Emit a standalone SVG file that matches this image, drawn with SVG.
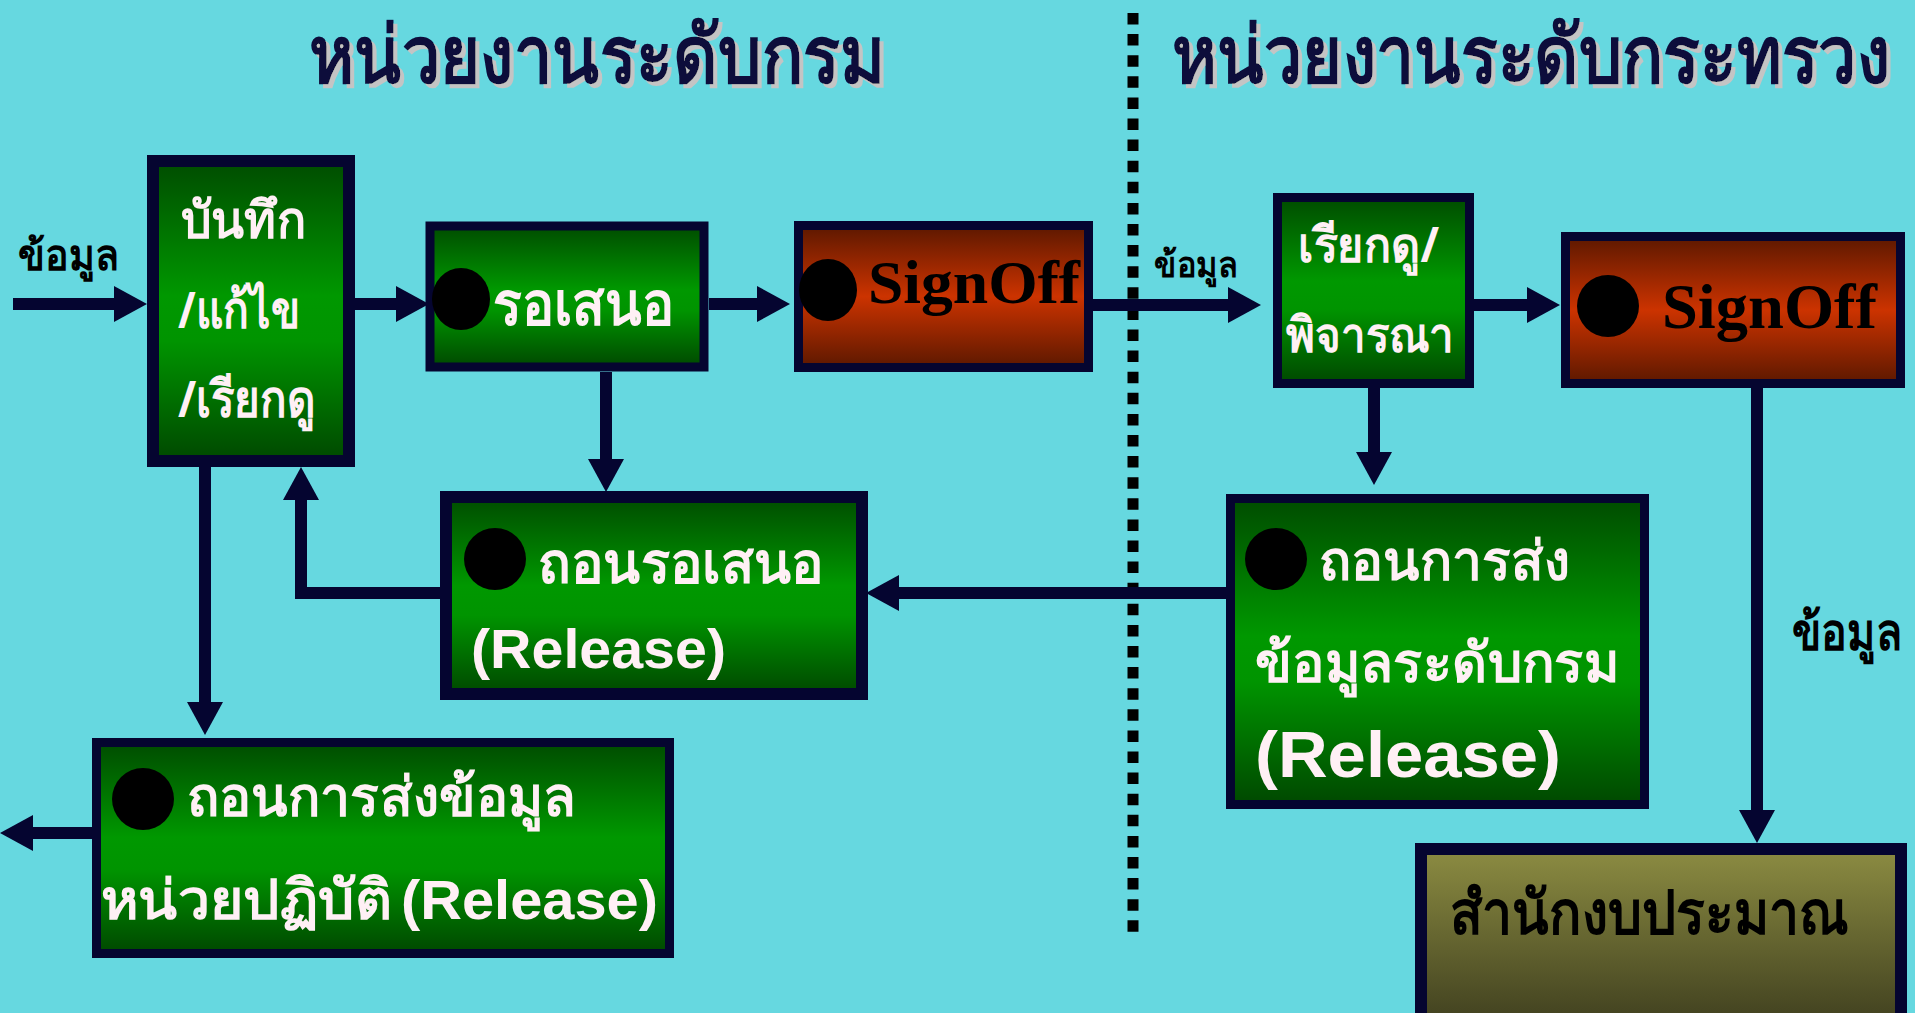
<svg xmlns="http://www.w3.org/2000/svg" width="1915" height="1013" viewBox="0 0 1915 1013">
<defs>
<linearGradient id="gGreen" x1="0" y1="0" x2="0" y2="1">
<stop offset="0" stop-color="#004c00"/><stop offset="0.45" stop-color="#009800"/><stop offset="0.6" stop-color="#009400"/><stop offset="1" stop-color="#004800"/>
</linearGradient>
<linearGradient id="gRed" x1="0" y1="0" x2="0" y2="1">
<stop offset="0" stop-color="#5c1800"/><stop offset="0.5" stop-color="#cc3300"/><stop offset="1" stop-color="#5c1800"/>
</linearGradient>
<linearGradient id="gOlive" x1="0" y1="0" x2="0" y2="1">
<stop offset="0" stop-color="#8c8c42"/><stop offset="1" stop-color="#3e3e1e"/>
</linearGradient>
<filter id="shadow" x="-5%" y="-20%" width="110%" height="140%">
<feOffset in="SourceAlpha" dx="4" dy="4" result="off"/>
<feFlood flood-color="#c4c4c4"/>
<feComposite in2="off" operator="in" result="sh"/>
<feMerge><feMergeNode in="sh"/><feMergeNode in="SourceGraphic"/></feMerge>
</filter>
<marker id="ah" markerUnits="userSpaceOnUse" markerWidth="34" markerHeight="36" refX="0" refY="18" orient="auto" overflow="visible">
<path d="M0,0 L33,18 L0,36 Z" fill="#050530"/>
</marker>
<style>
.bg{fill:#66d8e0}
.box{stroke:#050530}
.green{fill:url(#gGreen)}
.red{fill:url(#gRed)}
.olive{fill:url(#gOlive)}
.dot{fill:#000000}
.th{font-family:"Noto Sans","DejaVu Sans",sans-serif;font-weight:bold}
.wt{fill:#fff0f5}
.bk{fill:#000000}
.title{font-family:"Noto Sans","DejaVu Sans",sans-serif;font-weight:bold;font-size:80px;fill:#0a0a3a;filter:url(#shadow)}
.rel{font-family:"Liberation Sans",Arial,sans-serif;font-weight:bold;fill:#fff0f5}
.sign{font-family:"Liberation Serif","Times New Roman",serif;font-weight:bold;fill:#000000}
.conn{fill:none;stroke:#050530;stroke-width:12;marker-end:url(#ah)}
.divider{fill:none;stroke:#000000;stroke-width:11;stroke-dasharray:11.5 9.6}
</style>
</defs>
<rect class="bg" x="0" y="0" width="1915" height="1013"/>

<g id="titles">
<text class="title" x="309" y="83" textLength="576" lengthAdjust="spacingAndGlyphs">หน่วยงานระดับกรม</text>
<text class="title" x="1172" y="83" textLength="718" lengthAdjust="spacingAndGlyphs">หน่วยงานระดับกระทรวง</text>
</g>

<g id="divider">
<line class="divider" x1="1133" y1="13" x2="1133" y2="936"/>
</g>

<g id="connectors">
<path class="conn" d="M13,304 H114"/>
<path class="conn" d="M355,304 H396"/>
<path class="conn" d="M709,304 H757"/>
<path class="conn" d="M1093,305 H1228"/>
<path class="conn" d="M1474,305 H1527"/>
<path class="conn" d="M606,372 V459"/>
<path class="conn" d="M440,593 H301 V500"/>
<path class="conn" d="M205,467 V702"/>
<path class="conn" d="M92,833 H33"/>
<path class="conn" d="M1374,388 V452"/>
<path class="conn" d="M1226,593 H899"/>
<path class="conn" d="M1757,388 V810"/>
<text class="th bk" x="18" y="270" font-size="42" textLength="101" lengthAdjust="spacingAndGlyphs">ข้อมูล</text>
<text class="th bk" x="1154" y="277" font-size="36" textLength="84" lengthAdjust="spacingAndGlyphs">ข้อมูล</text>
<text class="th bk" x="1792" y="650" font-size="51" textLength="110" lengthAdjust="spacingAndGlyphs">ข้อมูล</text>
</g>

<g id="node-record">
<rect class="box green" x="153" y="161" width="196" height="300" stroke-width="12"/>
<text class="th wt" x="181" y="238" font-size="51" textLength="125" lengthAdjust="spacingAndGlyphs">บันทึก</text>
<text class="th wt" x="178" y="328" font-size="51" textLength="122" lengthAdjust="spacingAndGlyphs">/แก้ไข</text>
<text class="th wt" x="178" y="417" font-size="51" textLength="137" lengthAdjust="spacingAndGlyphs">/เรียกดู</text>
</g>

<g id="node-pending">
<rect class="box green" x="430" y="226" width="274" height="141" stroke-width="9"/>
<ellipse class="dot" cx="461" cy="299" rx="29" ry="31"/>
<text class="th wt" x="493" y="325" font-size="60" textLength="181" lengthAdjust="spacingAndGlyphs">รอเสนอ</text>
</g>

<g id="node-signoff-dept">
<rect class="box red" x="798.5" y="225.5" width="290" height="142" stroke-width="9"/>
<ellipse class="dot" cx="828" cy="290" rx="29" ry="31"/>
<text class="sign" x="868" y="303" font-size="62" textLength="212" lengthAdjust="spacingAndGlyphs">SignOff</text>
</g>

<g id="node-withdraw-pending">
<rect class="box green" x="446" y="497" width="416" height="197" stroke-width="12"/>
<ellipse class="dot" cx="495" cy="559" rx="31" ry="31"/>
<text class="th wt" x="538" y="583" font-size="58" textLength="286" lengthAdjust="spacingAndGlyphs">ถอนรอเสนอ</text>
<text class="rel" x="471" y="668" font-size="55" textLength="255" lengthAdjust="spacingAndGlyphs">(Release)</text>
</g>

<g id="node-withdraw-unit">
<rect class="box green" x="96.5" y="742.5" width="573" height="211" stroke-width="9"/>
<ellipse class="dot" cx="143" cy="799" rx="31" ry="31"/>
<text class="th wt" x="187" y="816" font-size="55" textLength="389" lengthAdjust="spacingAndGlyphs">ถอนการส่งข้อมูล</text>
<text class="th wt" x="101" y="919" font-size="55" textLength="291" lengthAdjust="spacingAndGlyphs">หน่วยปฏิบัติ</text>
<text class="rel" x="401" y="919" font-size="55" textLength="257" lengthAdjust="spacingAndGlyphs">(Release)</text>
</g>

<g id="node-review">
<rect class="box green" x="1277.5" y="197.5" width="192" height="186" stroke-width="9"/>
<text class="th wt" x="1298" y="262" font-size="49" textLength="141" lengthAdjust="spacingAndGlyphs">เรียกดู/</text>
<text class="th wt" x="1286" y="352" font-size="49" textLength="168" lengthAdjust="spacingAndGlyphs">พิจารณา</text>
</g>

<g id="node-signoff-ministry">
<rect class="box red" x="1565.5" y="236.5" width="335" height="147" stroke-width="9"/>
<ellipse class="dot" cx="1608" cy="306" rx="31" ry="31"/>
<text class="sign" x="1662" y="328" font-size="64" textLength="215" lengthAdjust="spacingAndGlyphs">SignOff</text>
</g>

<g id="node-withdraw-dept">
<rect class="box green" x="1230.5" y="498.5" width="414" height="306" stroke-width="9"/>
<ellipse class="dot" cx="1276" cy="559" rx="31" ry="31"/>
<text class="th wt" x="1319" y="580" font-size="55" textLength="251" lengthAdjust="spacingAndGlyphs">ถอนการส่ง</text>
<text class="th wt" x="1255" y="682" font-size="55" textLength="364" lengthAdjust="spacingAndGlyphs">ข้อมูลระดับกรม</text>
<text class="rel" x="1255" y="777" font-size="64" textLength="306" lengthAdjust="spacingAndGlyphs">(Release)</text>
</g>

<g id="node-budget">
<rect class="box olive" x="1421" y="849" width="480" height="180" stroke-width="12"/>
<text class="th bk" x="1450" y="934" font-size="61" textLength="399" lengthAdjust="spacingAndGlyphs">สำนักงบประมาณ</text>
</g>
</svg>
